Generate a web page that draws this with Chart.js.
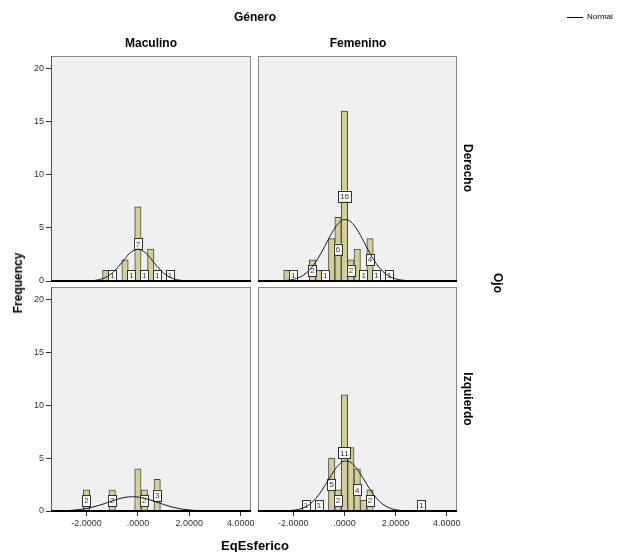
<!DOCTYPE html>
<html>
<head>
<meta charset="utf-8">
<script src="https://cdn.jsdelivr.net/npm/chart.js@4.4.1/dist/chart.umd.min.js"></script>
<style>
  body { margin: 0; background: #fff; }
  #wrap { position: relative; width: 617px; height: 552px; overflow: hidden;
          font-family: "Liberation Sans", Arial, sans-serif; }
  #wrap canvas { position: absolute; left: 0; top: 0; }
  .t { position: absolute; font-weight: bold; white-space: nowrap; color: #000;
       transform: translate(-50%, -50%); font-size: 12px; }
  .rot { transform: translate(-50%, -50%) rotate(90deg); }
  .rotl { transform: translate(-50%, -50%) rotate(-90deg); }
</style>
</head>
<body>
<div id="wrap">
  <canvas id="cTL" width="617" height="552"></canvas>
  <canvas id="cTR" width="617" height="552"></canvas>
  <canvas id="cBL" width="617" height="552"></canvas>
  <canvas id="cBR" width="617" height="552"></canvas>

  <div class="t" style="left:255px;top:17px;">Género</div>
  <div class="t" style="left:151px;top:43px;">Maculino</div>
  <div class="t" style="left:358px;top:43px;">Femenino</div>
  <div class="t rot" style="left:468px;top:168px;">Derecho</div>
  <div class="t rot" style="left:468px;top:399px;">Izquierdo</div>
  <div class="t rot" style="left:498px;top:283px;">Ojo</div>
  <div class="t rotl" style="left:18px;top:283px;">Frequency</div>
  <div class="t" style="left:255px;top:545px;font-size:13px;">EqEsferico</div>

  <div style="position:absolute;left:567px;top:17px;width:16px;height:1px;background:#000;"></div>
  <div style="position:absolute;left:587px;top:12px;font-size:8px;color:#000;white-space:nowrap;">Normal</div>
</div>

<script>
// bins (bin centre, EqEsferico) and frequencies per panel
const binsDerMas = [-1.25, -1.0, -0.5, -0.25, 0, 0.25, 0.5, 0.75, 1.25];
const freqDerMas = [1, 1, 2, 1, 7, 1, 3, 1, 1];
const labsDerMas = [-1.0, -0.25, 0, 0.25, 0.75, 1.25];

const binsDerFem = [-2.25, -2.0, -1.25, -1.0, -0.75, -0.5, -0.25, 0, 0.25, 0.5, 0.75, 1.0, 1.25, 1.75];
const freqDerFem = [1, 1, 2, 1, 1, 4, 6, 16, 2, 3, 1, 4, 1, 1];
const labsDerFem = [-2.0, -1.25, -0.75, -0.25, 0, 0.25, 0.75, 1.0, 1.25, 1.75];

const binsIzqMas = [-2.0, -1.0, 0, 0.25, 0.75];
const freqIzqMas = [2, 2, 4, 2, 3];
const labsIzqMas = [-2.0, -1.0, 0.25, 0.75];

const binsIzqFem = [-1.5, -1.0, -0.5, -0.25, 0, 0.25, 0.5, 0.75, 1.0, 3.0];
const freqIzqFem = [1, 1, 5, 2, 11, 6, 4, 1, 2, 1];
const labsIzqFem = [-1.5, -1.0, -0.5, -0.25, 0, 0.5, 1.0, 3.0];

// normal curve
const curveX = [-3, -2.75, -2.5, -2.25, -2, -1.75, -1.5, -1.25, -1, -0.75, -0.5, -0.25, 0,
                0.25, 0.5, 0.75, 1, 1.25, 1.5, 1.75, 2, 2.25, 2.5, 2.75, 3];
const normDerMas = [0, 0, 0, 0, 0.01, 0.04, 0.13, 0.34, 0.75, 1.37, 2.12, 2.75, 3.0,
                    2.75, 2.12, 1.37, 0.75, 0.34, 0.13, 0.04, 0.01, 0, 0, 0, 0];
const normDerFem = [0, 0.01, 0.02, 0.06, 0.15, 0.35, 0.73, 1.36, 2.26, 3.36, 4.50, 5.39, 5.79,
                    5.58, 4.82, 3.74, 2.59, 1.62, 0.90, 0.45, 0.20, 0.08, 0.03, 0.01, 0];
const normIzqMas = [0.02, 0.04, 0.08, 0.14, 0.23, 0.37, 0.54, 0.74, 0.95, 1.15, 1.29, 1.35, 1.32,
                    1.21, 1.03, 0.83, 0.62, 0.43, 0.28, 0.17, 0.10, 0.05, 0.03, 0.01, 0];
const normIzqFem = [0, 0, 0.01, 0.02, 0.07, 0.18, 0.42, 0.86, 1.55, 2.46, 3.46, 4.30, 4.73,
                    4.60, 3.96, 3.02, 2.03, 1.21, 0.64, 0.30, 0.12, 0.05, 0.01, 0, 0];

const xTicks = [-2, 0, 2, 4];
const yTicks = [0, 5, 10, 15, 20];

const FONT = '"Liberation Sans", Arial, sans-serif';
const X_MIN = -3.38, X_MAX = 4.40, Y_MAX = 21.2;
const Y_W = 26, X_H = 22;

// fondo, marco y etiquetas de conteo
const panelPlugin = {
  id: 'panel',
  beforeDraw(chart) {
    const { ctx, chartArea: a } = chart;
    ctx.save();
    ctx.fillStyle = '#f0f0f0';
    ctx.fillRect(a.left, a.top, a.right - a.left, a.bottom - a.top);
    ctx.restore();
  },
  afterDatasetDraw(chart, args, opts) {
    if (args.meta.type !== 'bar') return;
    const { ctx } = chart;
    const xs = chart.scales.x, ys = chart.scales.y;
    ctx.save();
    ctx.font = '8px ' + FONT;
    ctx.textAlign = 'center';
    ctx.textBaseline = 'middle';
    opts.labs.forEach(v => {
      const n = opts.freq[opts.bins.indexOf(v)];
      const txt = String(n);
      const cx = xs.getPixelForValue(v);
      const cy = ys.getPixelForValue(n / 2);
      const w = ctx.measureText(txt).width + 4, h = 11;
      ctx.fillStyle = '#fff';
      ctx.fillRect(cx - w / 2, cy - h / 2, w, h);
      ctx.strokeStyle = '#333';
      ctx.lineWidth = 1;
      ctx.strokeRect(Math.round(cx - w / 2) + 0.5, Math.round(cy - h / 2) + 0.5, Math.round(w), h);
      ctx.fillStyle = '#333';
      ctx.fillText(txt, cx, cy + 0.5);
    });
    ctx.restore();
  },
  afterDraw(chart, args, opts) {
    const { ctx, chartArea: a } = chart;
    ctx.save();
    ctx.strokeStyle = '#8a8a8a';
    ctx.lineWidth = 1;
    ctx.strokeRect(a.left + 0.5, a.top + 0.5, a.right - a.left - 1, a.bottom - a.top);
    if (opts.showY) {
      ctx.strokeStyle = '#555';
      ctx.beginPath();
      ctx.moveTo(a.left + 0.5, a.top);
      ctx.lineTo(a.left + 0.5, a.bottom);
      ctx.stroke();
    }
    ctx.strokeStyle = '#000';
    ctx.lineWidth = 2;
    ctx.beginPath();
    ctx.moveTo(a.left, a.bottom);
    ctx.lineTo(a.right, a.bottom);
    ctx.stroke();
    ctx.restore();
  }
};

function makePanel(id, area, bins, freq, labs, norm, showX, showY) {
  new Chart(document.getElementById(id), {
    type: 'bar',
    data: {
      datasets: [
        {
          type: 'line',
          label: 'Normal',
          data: curveX.map((x, i) => ({ x: x, y: norm[i] })),
          borderColor: '#1a1a1a',
          borderWidth: 1,
          pointRadius: 0,
          cubicInterpolationMode: 'monotone',
          order: 1
        },
        {
          type: 'bar',
          data: bins.map((x, i) => ({ x: x, y: freq[i] })),
          backgroundColor: '#d4cd98',
          borderColor: '#4a4a3c',
          borderWidth: 1,
          barThickness: 6.4,
          order: 2
        }
      ]
    },
    options: {
      responsive: false,
      animation: false,
      devicePixelRatio: 1,
      layout: {
        padding: {
          left: area.l - (showY ? Y_W : 0),
          top: area.t,
          right: 617 - area.r,
          bottom: 552 - area.b - (showX ? X_H : 0)
        }
      },
      plugins: {
        legend: { display: false },
        tooltip: { enabled: false },
        panel: { bins: bins, freq: freq, labs: labs, showY: showY }
      },
      scales: {
        x: {
          type: 'linear',
          display: showX,
          min: X_MIN,
          max: X_MAX,
          offset: false,
          afterFit: s => { s.height = showX ? X_H : 0; },
          afterBuildTicks: s => { s.ticks = xTicks.map(v => ({ value: v })); },
          grid: { display: true, drawOnChartArea: false, offset: false, tickLength: 5, tickColor: '#333' },
          border: { display: false },
          ticks: {
            autoSkip: false,
            maxRotation: 0,
            padding: 2,
            color: '#333',
            font: { family: FONT, size: 9 },
            callback: v => v.toFixed(4).replace(/^(-?)0\./, '$1.')
          }
        },
        y: {
          display: showY,
          min: 0,
          max: Y_MAX,
          afterFit: s => { s.width = showY ? Y_W : 0; },
          afterBuildTicks: s => { s.ticks = yTicks.map(v => ({ value: v })); },
          grid: { display: true, drawOnChartArea: false, tickLength: 5, tickColor: '#333' },
          border: { display: false },
          ticks: {
            padding: 2,
            color: '#333',
            font: { family: FONT, size: 9 }
          }
        }
      }
    },
    plugins: [panelPlugin]
  });
}

makePanel('cTL', { l: 51, t: 56, r: 251, b: 281 }, binsDerMas, freqDerMas, labsDerMas, normDerMas, false, true);
makePanel('cTR', { l: 258, t: 56, r: 457, b: 281 }, binsDerFem, freqDerFem, labsDerFem, normDerFem, false, false);
makePanel('cBL', { l: 51, t: 287, r: 251, b: 511 }, binsIzqMas, freqIzqMas, labsIzqMas, normIzqMas, true, true);
makePanel('cBR', { l: 258, t: 287, r: 457, b: 511 }, binsIzqFem, freqIzqFem, labsIzqFem, normIzqFem, true, false);
</script>
</body>
</html>
